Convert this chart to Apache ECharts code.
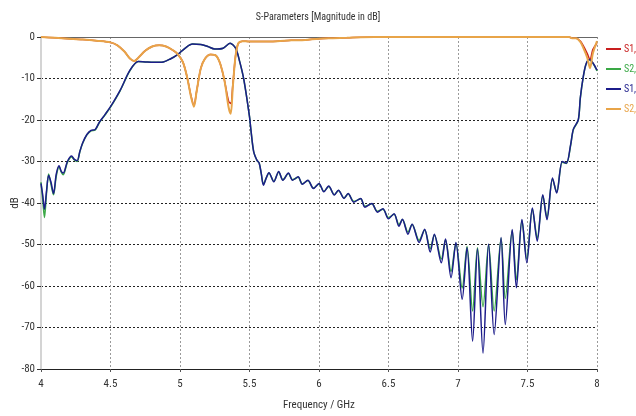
<!DOCTYPE html>
<html>
<head>
<meta charset="utf-8">
<script src="https://cdn.jsdelivr.net/npm/echarts@6/dist/echarts.min.js"></script>
<style>
  html, body { margin: 0; padding: 0; background: #fff; }
  #chart { width: 636px; height: 416px; }
</style>
</head>
<body>
<div id="chart"></div>
<script>
var FONT = "'Roboto Condensed', 'DejaVu Sans Condensed', sans-serif";

// reflection curves (GHz / dB)
var reflFreq = [4.00, 4.10, 4.20, 4.30, 4.40, 4.50, 4.55, 4.60, 4.64, 4.67, 4.70, 4.75, 4.80, 4.85, 4.90,
    4.95, 4.98, 5.02, 5.05, 5.08, 5.10, 5.12, 5.15, 5.18, 5.22, 5.26, 5.29, 5.32, 5.35, 5.365,
    5.38, 5.40, 5.42, 5.45, 5.50, 5.60, 5.70, 5.80, 5.90, 6.00, 6.10, 6.20, 6.30, 6.40, 7.00,
    7.80, 7.82, 7.85, 7.88, 7.90, 7.93, 7.95, 7.97, 8.00];
var s11 = [0, -0.2, -0.4, -0.6, -0.9, -1.3, -2.0, -3.5, -5.2, -5.8, -5.0, -3.3, -2.3, -2.0, -2.3,
    -3.2, -4.0, -6.0, -9.5, -14.3, -16.5, -13, -7.5, -5.2, -4.2, -4.5, -6.5, -10.5, -15.5, -16.0,
    -11.5, -4.5, -1.5, -1.0, -1.1, -1.1, -1.0, -0.8, -0.7, -0.4, -0.3, -0.2, -0.05, 0, 0,
    0, -0.3, -0.3, -1.0, -2.0, -4.0, -5.5, -3.0, -1.5];
var s22 = [0, -0.2, -0.4, -0.6, -0.9, -1.3, -2.0, -3.5, -5.2, -5.8, -5.0, -3.3, -2.3, -2.0, -2.3,
    -3.2, -4.0, -6.0, -9.5, -14.5, -16.8, -13, -7.5, -5.2, -4.2, -4.5, -6.5, -10.5, -17.0, -18.5,
    -12, -4.5, -1.5, -1.0, -1.1, -1.1, -1.0, -0.8, -0.7, -0.4, -0.3, -0.2, -0.05, 0, 0,
    0, -0.3, -0.3, -1.2, -2.5, -5.0, -7.5, -4.0, -1.0];

// transmission curves (GHz / dB)
var transFreq = [4.000, 4.012, 4.025, 4.040, 4.055, 4.072, 4.090, 4.110, 4.130, 4.145, 4.160, 4.190,
    4.220, 4.240, 4.260, 4.280, 4.300, 4.330, 4.360, 4.390, 4.420, 4.460, 4.500, 4.570, 4.640,
    4.700, 4.750, 4.810, 4.880, 4.930, 4.980, 5.040, 5.090, 5.150, 5.200, 5.250, 5.310, 5.360,
    5.400, 5.430, 5.460, 5.500, 5.510, 5.530, 5.555, 5.570, 5.585, 5.600, 5.620, 5.640, 5.675,
    5.710, 5.740, 5.780, 5.810, 5.850, 5.880, 5.920, 5.960, 6.000, 6.035, 6.070, 6.110, 6.140,
    6.180, 6.210, 6.250, 6.300, 6.330, 6.380, 6.420, 6.460, 6.500, 6.540, 6.575, 6.600, 6.640,
    6.670, 6.720, 6.760, 6.800, 6.830, 6.880, 6.910, 6.950, 6.985, 7.030, 7.065, 7.105, 7.140,
    7.180, 7.220, 7.260, 7.310, 7.340, 7.390, 7.420, 7.460, 7.495, 7.535, 7.570, 7.610, 7.640,
    7.680, 7.710, 7.750, 7.780, 7.810, 7.830, 7.865, 7.880, 7.900, 7.920, 7.945, 7.970, 8.000];
var s12 = [-35.3, -38, -41.5, -37, -33.3, -35, -37.7, -33, -31, -32.3, -32.8, -30,
    -28.7, -29.5, -29.8, -27.5, -25.5, -23.5, -22.5, -22.3, -20.5, -18.7, -16.8, -12.8, -8.0,
    -5.9, -6.0, -6.1, -6.0, -5.3, -4.3, -2.6, -1.7, -1.8, -2.3, -2.9, -2.7, -1.5,
    -2.7, -6.0, -10.4, -19.2, -22.3, -27.6, -29.8, -30.4, -33, -35.7, -34, -32.7, -34.9,
    -32.4, -34.5, -32.8, -34.5, -33.7, -35.5, -34.5, -36.5, -35.3, -37.3, -35.9, -38.1, -36.9,
    -38.9, -37.7, -39.8, -38.9, -41, -40.1, -42.2, -41.4, -43.8, -42.6, -45.6, -43.9, -47.5,
    -45.1, -49.5, -46.3, -51.8, -47.5, -54.4, -48.7, -58, -49.5, -63.2, -50.7, -73.3, -51,
    -76.2, -49.9, -71.7, -48.3, -69.3, -46.4, -60.4, -44, -54.4, -41.2, -49.2, -38, -44,
    -34, -37.6, -30, -30.4, -26, -22.2, -20, -14.6, -9.8, -6.6, -5.4, -6.2, -8];
var s21 = [-35.0, -39, -43.5, -37.5, -33.0, -35.5, -38.0, -33.5, -31.2, -32.5, -33.2, -30.2,
    -28.9, -29.6, -30.0, -27.6, -25.6, -23.6, -22.6, -22.4, -20.6, -18.8, -16.9, -12.9, -8.1,
    -5.9, -6.0, -6.1, -6.0, -5.3, -4.3, -2.6, -1.7, -1.8, -2.3, -2.9, -2.7, -1.5,
    -2.7, -6.0, -10.4, -19.2, -22.3, -27.6, -29.8, -30.4, -33, -35.5, -34, -32.8, -34.8,
    -32.5, -34.4, -32.9, -34.4, -33.8, -35.4, -34.6, -36.4, -35.4, -37.2, -36.0, -38.0, -37.0,
    -38.8, -37.8, -39.6, -39.0, -40.8, -40.2, -42.0, -41.5, -43.5, -42.7, -45.2, -44.0, -47.0,
    -45.2, -49.0, -46.5, -51.0, -47.7, -53.5, -48.9, -56.5, -49.7, -60.5, -50.5, -66.0, -50.8,
    -65.0, -50.0, -66.0, -48.5, -63.0, -46.6, -58.5, -44.2, -53.5, -41.4, -48.5, -38.2, -43.5,
    -34.2, -37.4, -30.2, -30.5, -26.2, -22.3, -20.1, -14.8, -9.9, -6.7, -5.5, -6.3, -8.2];

var names = ['S1,1', 'S2,1', 'S1,2', 'S2,2'];
var colors = ['#c81e1e', '#3aa845', '#1c1c8a', '#e8a448'];
var xTicks = [4, 8, 0.5];      // min, max, interval
var yTicks = [-80, 0, 10];

function pairs(f, v) { return f.map(function (x, i) { return [x, v[i]]; }); }

var myChart = echarts.init(document.getElementById('chart'));

var option = {
    animation: false,
    backgroundColor: '#fff',
    title: {
        text: 'S-Parameters [Magnitude in dB]',
        left: 'center',
        top: 7,
        textStyle: { fontFamily: FONT, fontSize: 10, fontWeight: 'normal', color: '#333' }
    },
    legend: {
        orient: 'vertical',
        left: 601,
        top: 39,
        itemGap: 10,
        itemWidth: 15,
        itemHeight: 2,
        icon: 'rect',
        data: names.map(function (n, i) {
            return { name: n, textStyle: { color: colors[i] } };
        }),
        textStyle: { fontFamily: FONT, fontSize: 10, padding: [0, 0, 0, -2] }
    },
    grid: { left: 41, right: 39, top: 37, bottom: 47, outerBoundsMode: 'none', containLabel: false },
    xAxis: [{
        type: 'value',
        min: xTicks[0], max: xTicks[1], interval: xTicks[2],
        name: 'Frequency / GHz',
        nameLocation: 'middle',
        nameGap: 31,
        nameMoveOverlap: false,
        nameTextStyle: { fontFamily: FONT, fontSize: 11, color: '#333' },
        axisLine: { onZero: false, lineStyle: { color: '#222', width: 1 } },
        axisTick: { show: true, length: 3, lineStyle: { color: '#555' } },
        axisLabel: { fontFamily: FONT, fontSize: 11, color: '#333', margin: 10 },
        splitLine: { show: true, lineStyle: { color: '#9a9a9a', type: [2, 2], width: 1 } }
    }, {
        type: 'value',
        position: 'top',
        min: xTicks[0], max: xTicks[1],
        axisLine: { onZero: false, lineStyle: { color: '#666', width: 1 } },
        axisTick: { show: false },
        axisLabel: { show: false },
        splitLine: { show: false }
    }],
    yAxis: {
        type: 'value',
        min: yTicks[0], max: yTicks[1], interval: yTicks[2],
        name: 'dB',
        nameLocation: 'middle',
        nameGap: 20,
        nameMoveOverlap: false,
        nameRotate: 90,
        nameTextStyle: { fontFamily: FONT, fontSize: 11, color: '#333' },
        axisLine: { show: true, lineStyle: { color: '#d4d4d4', width: 2 } },
        axisTick: { show: true, length: 4, lineStyle: { color: '#333' } },
        axisLabel: { fontFamily: FONT, fontSize: 11, color: '#333', margin: 6 },
        splitLine: { show: true, lineStyle: { color: '#222', type: [2, 2], width: 1 } }
    },
    series: [
        { name: names[0], type: 'line', data: pairs(reflFreq, s11), z: 3 },
        { name: names[1], type: 'line', data: pairs(transFreq, s21), z: 3 },
        { name: names[2], type: 'line', data: pairs(transFreq, s12), z: 4 },
        { name: names[3], type: 'line', data: pairs(reflFreq, s22), z: 5 }
    ].map(function (s, i) {
        s.symbol = 'none';
        s.smooth = 0.3;
        s.color = colors[i];
        s.lineStyle = { color: colors[i], width: i === 3 ? 2 : 1.5 };
        return s;
    })
};

myChart.setOption(option);
</script>
</body>
</html>
